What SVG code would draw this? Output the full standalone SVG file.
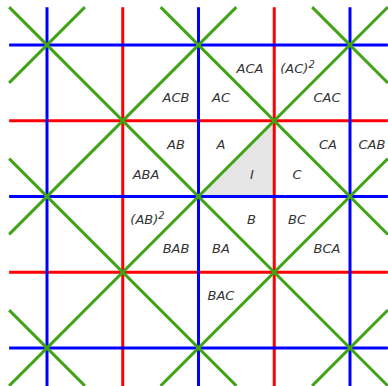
<svg xmlns="http://www.w3.org/2000/svg" width="388" height="386" viewBox="0 0 388 386">
<style>
.r{stroke:#ff0000;stroke-width:3;fill:none}
.b{stroke:#0000ff;stroke-width:3;fill:none}
.g{stroke:#41a317;stroke-width:3;fill:none}
text{font-family:"DejaVu Sans","Liberation Sans",sans-serif;font-style:italic;font-size:13px;fill:#333333;text-anchor:middle}
.sup{font-size:10px}
</style>
<rect width="388" height="386" fill="#ffffff"/>
<g id="fundamental-region">
<polygon points="198.5,196.5 274.25,120.75 274.25,196.5" fill="#e6e6e6"/>
</g>
<g id="connectors">
<g id="red-lines">
<line class="r" x1="122.75" y1="7.125" x2="122.75" y2="385.875"/>
<line class="r" x1="274.25" y1="7.125" x2="274.25" y2="385.875"/>
<line class="r" x1="9.125" y1="120.75" x2="387.875" y2="120.75"/>
<line class="r" x1="9.125" y1="272.25" x2="387.875" y2="272.25"/>
</g>
<g id="blue-lines">
<line class="b" x1="47" y1="7.125" x2="47" y2="385.875"/>
<line class="b" x1="198.5" y1="7.125" x2="198.5" y2="385.875"/>
<line class="b" x1="350" y1="7.125" x2="350" y2="385.875"/>
<line class="b" x1="9.125" y1="45" x2="387.875" y2="45"/>
<line class="b" x1="9.125" y1="196.5" x2="387.875" y2="196.5"/>
<line class="b" x1="9.125" y1="348" x2="387.875" y2="348"/>
</g>
<g id="green-lines">
<line class="g" x1="9.125" y1="7.125" x2="387.875" y2="385.875"/>
<line class="g" x1="160.625" y1="7.125" x2="387.875" y2="234.375"/>
<line class="g" x1="312.125" y1="7.125" x2="387.875" y2="82.875"/>
<line class="g" x1="9.125" y1="158.625" x2="236.375" y2="385.875"/>
<line class="g" x1="9.125" y1="310.125" x2="84.875" y2="385.875"/>
<line class="g" x1="9.125" y1="82.875" x2="84.875" y2="7.125"/>
<line class="g" x1="9.125" y1="234.375" x2="236.375" y2="7.125"/>
<line class="g" x1="9.125" y1="385.875" x2="387.875" y2="7.125"/>
<line class="g" x1="160.625" y1="385.875" x2="387.875" y2="158.625"/>
<line class="g" x1="312.125" y1="385.875" x2="387.875" y2="310.125"/>
</g>
</g>
<g id="labels">
<text id="ACA" x="250" y="73">ACA</text>
<text id="AC2" x="297.5" y="73">(AC)<tspan class="sup" dy="-5">2</tspan></text>
<text id="ACB" x="176" y="102">ACB</text>
<text id="AC" x="221" y="102">AC</text>
<text id="CAC" x="327" y="102">CAC</text>
<text id="AB" x="176" y="148.5">AB</text>
<text id="A" x="221" y="148.5">A</text>
<text id="CA" x="328" y="148.5">CA</text>
<text id="CAB" x="372" y="148.5">CAB</text>
<text id="ABA" x="146" y="178.5">ABA</text>
<text id="I" x="252" y="178.5">I</text>
<text id="C" x="297" y="178.5">C</text>
<text id="AB2" x="147.5" y="223.5">(AB)<tspan class="sup" dy="-5">2</tspan></text>
<text id="B" x="251.5" y="223.5">B</text>
<text id="BC" x="297" y="223.5">BC</text>
<text id="BAB" x="176" y="253">BAB</text>
<text id="BA" x="221" y="253">BA</text>
<text id="BCA" x="327" y="253">BCA</text>
<text id="BAC" x="221" y="300">BAC</text>
</g>
</svg>
